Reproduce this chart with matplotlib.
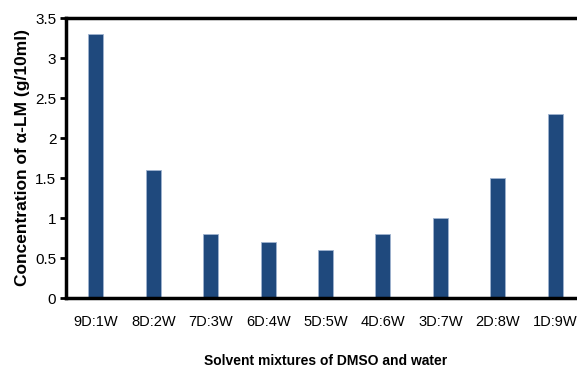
import matplotlib
matplotlib.use("Agg")
import matplotlib.pyplot as plt
import numpy as np

categories = ["9D:1W", "8D:2W", "7D:3W", "6D:4W", "5D:5W", "4D:6W", "3D:7W", "2D:8W", "1D:9W"]
values = [3.3, 1.6, 0.8, 0.7, 0.6, 0.8, 1.0, 1.5, 2.3]
yticks = [0, 0.5, 1, 1.5, 2, 2.5, 3, 3.5]
ytick_labels = ["0", "0.5", "1", "1.5", "2", "2.5", "3", "3.5"]

plt.rcParams['font.family'] = ['Liberation Sans', 'DejaVu Sans']

fig = plt.figure(figsize=(5.77, 3.73), dpi=100)
ax = fig.add_axes([66/577, 75/373, (585-66)/577, 280/373])

x = np.arange(len(categories))
ax.bar(x, values, width=0.26, color='#1f497d', edgecolor='#9fb3d0', linewidth=0.6)

ax.set_xlim(-0.52, len(categories) - 0.48)
ax.set_ylim(0, 3.5)
ax.set_yticks(yticks)
ax.set_yticklabels(ytick_labels, fontsize=11)
ax.set_xticks(x)
ax.set_xticklabels(categories, fontsize=10.5)
ax.tick_params(axis='x', length=0, pad=12)
ax.tick_params(axis='y', length=4, width=2, pad=3, direction='out')

for s in ['top', 'bottom', 'left', 'right']:
    ax.spines[s].set_linewidth(2.5)
    ax.spines[s].set_color('black')

ax.set_xlabel("Solvent mixtures of DMSO and water", fontsize=10, fontweight='bold', labelpad=18)
ax.set_ylabel("Concentration of α-LM (g/10ml)", fontsize=12.5, fontweight='bold', labelpad=4)

fig.savefig("out.png", dpi=100)
